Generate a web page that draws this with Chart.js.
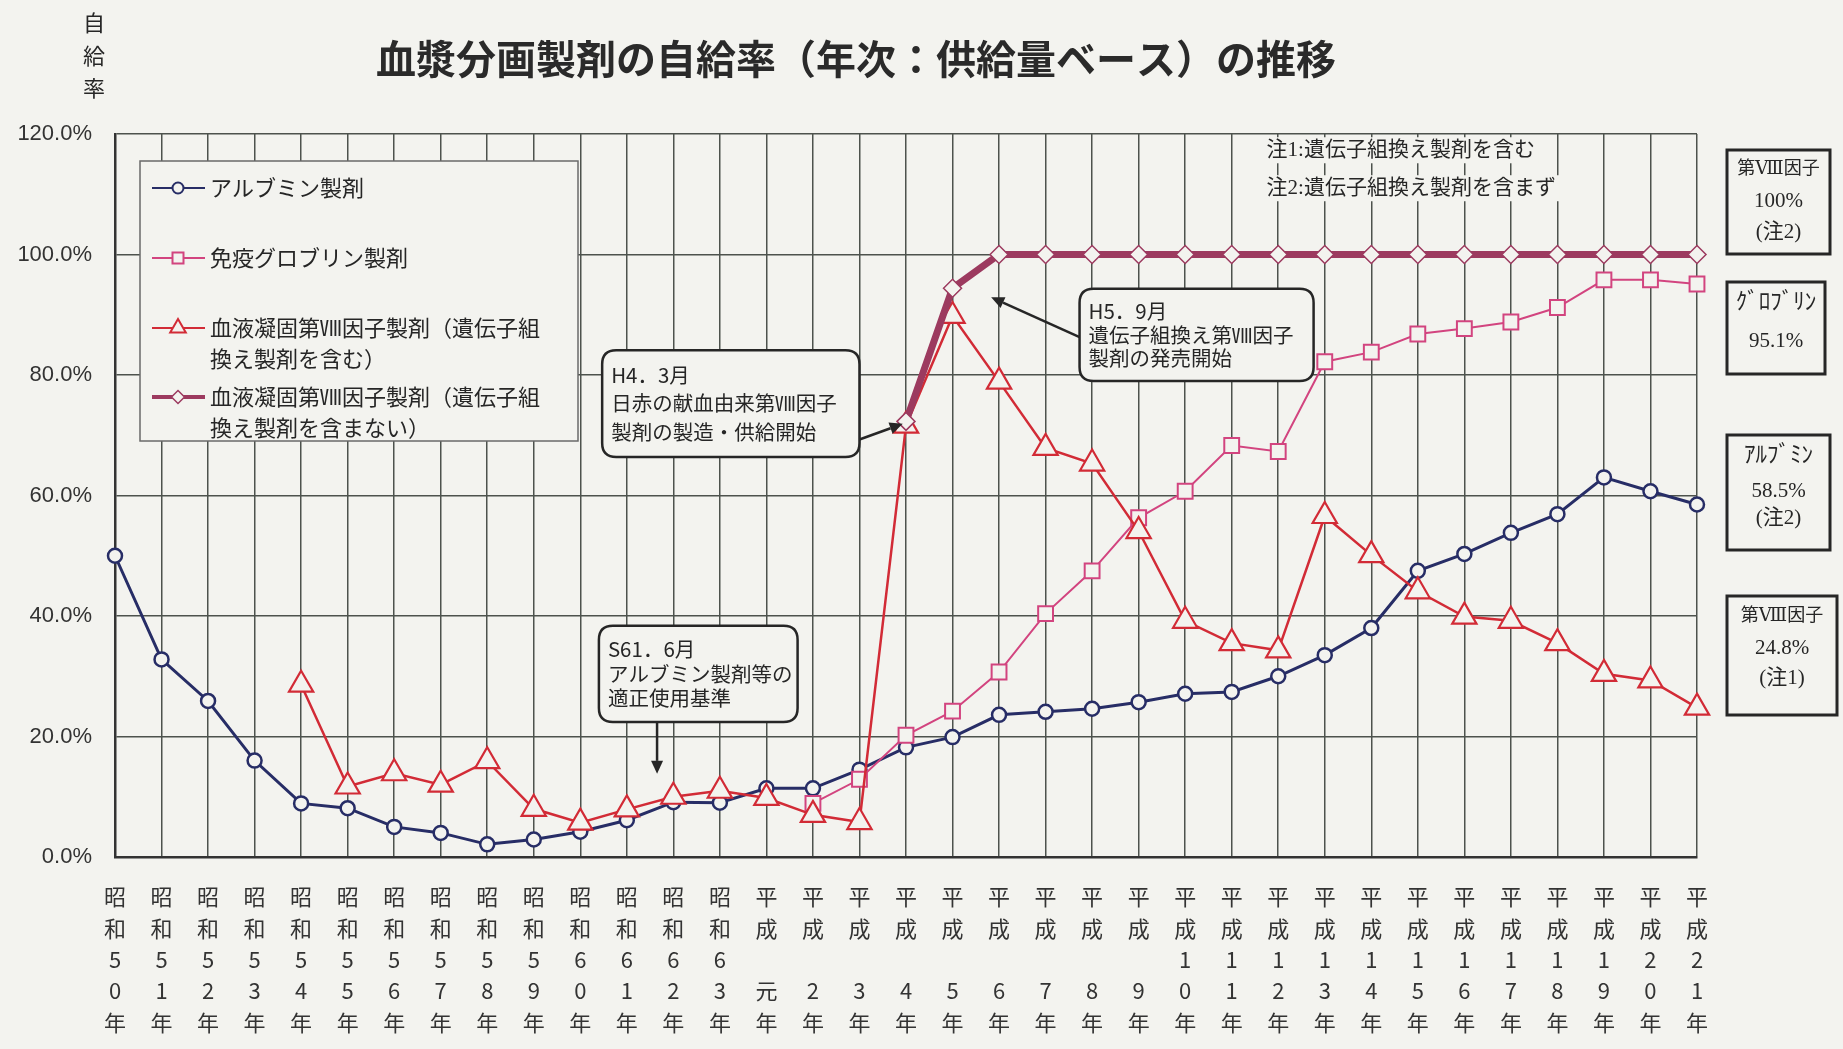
<!DOCTYPE html>
<html><head><meta charset="utf-8">
<script src="https://cdn.jsdelivr.net/npm/chart.js@4.4.0/dist/chart.umd.min.js"></script>
<style>
html,body{margin:0;padding:0;background:#f3f3ef;}
canvas{display:block;}
</style></head><body>
<canvas id="c" width="1843" height="1049"></canvas>
<script>
// ---------- data ----------
const categories = ['昭和50年','昭和51年','昭和52年','昭和53年','昭和54年','昭和55年','昭和56年','昭和57年','昭和58年','昭和59年','昭和60年','昭和61年','昭和62年','昭和63年',
  '平成元年','平成2年','平成3年','平成4年','平成5年','平成6年','平成7年','平成8年','平成9年','平成10年','平成11年','平成12年','平成13年','平成14年','平成15年','平成16年','平成17年','平成18年','平成19年','平成20年','平成21年'];
const albumin = [50.0,32.8,25.9,16.0,8.9,8.1,5.0,4.0,2.1,2.9,4.2,6.1,9.1,9.0,
  11.4,11.4,14.5,18.2,19.9,23.6,24.1,24.6,25.7,27.1,27.4,30.0,33.5,38.0,47.5,50.3,53.8,56.9,63.0,60.7,58.5];
const globulin = [null,null,null,null,null,null,null,null,null,null,null,null,null,null,
  null,8.9,12.9,20.2,24.2,30.7,40.4,47.5,56.3,60.7,68.3,67.3,82.2,83.8,86.8,87.7,88.8,91.2,95.8,95.8,95.1];
const factor8Incl = [null,null,null,null,28.6,11.7,13.9,12.0,15.9,8.0,5.7,7.9,10.0,11.0,
  9.8,7.0,5.8,71.6,89.8,78.9,67.9,65.3,54.1,39.2,35.5,34.3,56.6,50.1,44.1,39.9,39.2,35.5,30.4,29.3,24.8];
const factor8Excl = [null,null,null,null,null,null,null,null,null,null,null,null,null,null,
  null,null,null,72.3,94.4,100,100,100,100,100,100,100,100,100,100,100,100,100,100,100,100];
const seriesNames = ['アルブミン製剤','免疫グロブリン製剤','血液凝固第Ⅷ因子製剤（遺伝子組換え製剤を含む）','血液凝固第Ⅷ因子製剤（遺伝子組換え製剤を含まない）'];
const yMin = 0, yMax = 120, yStep = 20;
const titleText = '血漿分画製剤の自給率（年次：供給量ベース）の推移';
const yTitle = '自給率';
const notes = ['注1:遺伝子組換え製剤を含む','注2:遺伝子組換え製剤を含まず'];
const sideBoxes = [['第Ⅷ因子','100%','(注2)'],['ｸﾞﾛﾌﾞﾘﾝ','95.1%'],['ｱﾙﾌﾞﾐﾝ','58.5%','(注2)'],['第Ⅷ因子','24.8%','(注1)']];
const callouts = [
  {lines:['S61．6月','アルブミン製剤等の','適正使用基準']},
  {lines:['H4．3月','日赤の献血由来第Ⅷ因子','製剤の製造・供給開始']},
  {lines:['H5．9月','遺伝子組換え第Ⅷ因子','製剤の発売開始']}
];

// ---------- styling ----------
const BG = '#f3f3ef';
const GRID = '#4d524d';
const INK = '#262626';
const CJK = '"Noto Sans CJK JP","Noto Sans",sans-serif';
const SERIF = '"Liberation Serif","DejaVu Serif","Noto Sans CJK JP",serif';
const C_ALB = '#272d66', C_GLO = '#d2447f', C_F8 = '#d22b36', C_F8X = '#9c3a5f';

function stackLabel(s){
  const era = s.slice(0,2);
  const num = s.slice(2, s.length-1);
  const d = num.length === 1 ? ['', num] : [num[0], num[1]];
  return [era[0], era[1], d[0], d[1], '年'];
}

function roundRect(ctx,x,y,w,h,r){
  ctx.beginPath();
  ctx.moveTo(x+r,y);ctx.lineTo(x+w-r,y);ctx.quadraticCurveTo(x+w,y,x+w,y+r);
  ctx.lineTo(x+w,y+h-r);ctx.quadraticCurveTo(x+w,y+h,x+w-r,y+h);
  ctx.lineTo(x+r,y+h);ctx.quadraticCurveTo(x,y+h,x,y+h-r);
  ctx.lineTo(x,y+r);ctx.quadraticCurveTo(x,y,x+r,y);ctx.closePath();
}
function arrow(ctx,x1,y1,x2,y2){
  ctx.save();
  ctx.strokeStyle = INK; ctx.fillStyle = INK; ctx.lineWidth = 2.5;
  const a = Math.atan2(y2-y1,x2-x1), L = 13, W = 6;
  const bx = x2 - Math.cos(a)*L, by = y2 - Math.sin(a)*L;
  ctx.beginPath(); ctx.moveTo(x1,y1); ctx.lineTo(bx,by); ctx.stroke();
  ctx.beginPath(); ctx.moveTo(x2,y2);
  ctx.lineTo(bx - Math.sin(a)*W, by + Math.cos(a)*W);
  ctx.lineTo(bx + Math.sin(a)*W, by - Math.cos(a)*W);
  ctx.closePath(); ctx.fill();
  ctx.restore();
}
function marker(ctx,style,x,y,r,color,lw){
  ctx.save(); ctx.strokeStyle = color; ctx.fillStyle = BG; ctx.lineWidth = lw;
  ctx.beginPath();
  if (style==='circle'){ ctx.arc(x,y,r,0,Math.PI*2); }
  else if (style==='rect'){ ctx.rect(x-r,y-r,2*r,2*r); }
  else if (style==='triangle'){ ctx.moveTo(x,y-r); ctx.lineTo(x+r*0.866,y+r*0.5); ctx.lineTo(x-r*0.866,y+r*0.5); ctx.closePath(); }
  else if (style==='rectRot'){ ctx.moveTo(x,y-r); ctx.lineTo(x+r,y); ctx.lineTo(x,y+r); ctx.lineTo(x-r,y); ctx.closePath(); }
  ctx.fill(); ctx.stroke(); ctx.restore();
}

const deco = {
  id: 'deco',
  beforeDraw(chart){
    const ctx = chart.ctx; ctx.save(); ctx.fillStyle = BG; ctx.fillRect(0,0,chart.width,chart.height); ctx.restore();
  },
  afterDatasetsDraw(chart){
    const ctx = chart.ctx, ca = chart.chartArea;
    const X = chart.scales.x, Y = chart.scales.y;
    const px = v => X.getPixelForValue(v), py = v => Y.getPixelForValue(v);
    // legend box
    const L = ca.left + 25, T = ca.top + 27, W = 438, H = 280;
    ctx.save();
    ctx.fillStyle = BG; ctx.fillRect(L,T,W,H);
    ctx.strokeStyle = '#6a6a6a'; ctx.lineWidth = 1.5; ctx.strokeRect(L,T,W,H);
    const items = [
      {c:C_ALB, s:'circle', r:5.5, lw:2, blw:2, lines:[seriesNames[0]], y:27},
      {c:C_GLO, s:'rect', r:5.5, lw:2, blw:2, lines:[seriesNames[1]], y:97},
      {c:C_F8, s:'triangle', r:9, lw:2, blw:2, lines:['血液凝固第Ⅷ因子製剤（遺伝子組','換え製剤を含む）'], y:167},
      {c:C_F8X, s:'rectRot', r:6.5, lw:1.5, blw:4, lines:['血液凝固第Ⅷ因子製剤（遺伝子組','換え製剤を含まない）'], y:236}
    ];
    items.forEach(it => {
      const yy = T + it.y;
      ctx.strokeStyle = it.c; ctx.lineWidth = it.blw;
      ctx.beginPath(); ctx.moveTo(L+12,yy); ctx.lineTo(L+65,yy); ctx.stroke();
      marker(ctx,it.s,L+38,yy,it.r,it.c,it.lw);
      ctx.fillStyle = INK; ctx.font = '22px '+CJK; ctx.textBaseline = 'middle'; ctx.textAlign = 'left';
      it.lines.forEach((t,k) => ctx.fillText(t, L+70, yy + k*31));
    });
    // notes (top right inside plot)
    ctx.font = '21px '+SERIF; ctx.textBaseline = 'middle'; ctx.textAlign = 'left';
    const nx = px(24.75);
    [py(117.3), py(111.0)].forEach((yy,k) => {
      const w = ctx.measureText(notes[k]).width;
      ctx.fillStyle = BG; ctx.fillRect(nx-4, yy-13, w+8, 26);
      ctx.fillStyle = INK; ctx.fillText(notes[k], nx, yy);
    });
    // callouts
    const boxes = [
      {b:[10.4,38.4,14.67,22.4], a:[11.65,22.4,11.65,13.8]},
      {b:[10.47,84.1,16.0,66.4], a:[16.0,69.3,16.93,71.9]},
      {b:[20.73,94.3,25.76,79.0], a:[20.73,86.3,18.83,92.9]}
    ];
    boxes.forEach((bx,k) => {
      const x1 = px(bx.b[0]), y1 = py(bx.b[1]), x2 = px(bx.b[2]), y2 = py(bx.b[3]);
      arrow(ctx, px(bx.a[0]), py(bx.a[1]), px(bx.a[2]), py(bx.a[3]));
      roundRect(ctx, x1, y1, x2-x1, y2-y1, 14);
      ctx.fillStyle = BG; ctx.fill();
      ctx.strokeStyle = INK; ctx.lineWidth = 2.5; ctx.stroke();
      ctx.fillStyle = INK; ctx.font = '20.5px '+CJK; ctx.textAlign = 'left'; ctx.textBaseline = 'middle';
      const lh = (y2-y1-22)/3;
      callouts[k].lines.forEach((t,j) => ctx.fillText(t, x1+9, y1 + 11 + lh*(j+0.5)));
    });
    ctx.restore();
  },
  afterDraw(chart){
    const ctx = chart.ctx, ca = chart.chartArea;
    ctx.save();
    // title
    ctx.fillStyle = '#2a2a2a'; ctx.font = 'bold 40px '+CJK; ctx.textAlign = 'center'; ctx.textBaseline = 'middle';
    ctx.fillText(titleText, 856, 59);
    // y title stacked
    ctx.font = '22px '+CJK; ctx.fillStyle = INK;
    [...yTitle].forEach((ch,k) => ctx.fillText(ch, 94, 23 + k*32.5));
    // side boxes
    const sb = [
      {y:[150,254], ly:[169,201,232], w:103, f0:18},
      {y:[282,374], ly:[303,341], w:98, f0:23},
      {y:[435,550], ly:[456,491,518], w:103, f0:23},
      {y:[596,715], ly:[616,648,678], w:110, f0:18}
    ];
    const bxL = ca.right + 30;
    sb.forEach((b,k) => {
      ctx.fillStyle = BG; ctx.fillRect(bxL, b.y[0], b.w, b.y[1]-b.y[0]);
      ctx.strokeStyle = INK; ctx.lineWidth = 3; ctx.strokeRect(bxL, b.y[0], b.w, b.y[1]-b.y[0]);
      ctx.fillStyle = INK; ctx.textAlign = 'center'; ctx.textBaseline = 'middle';
      sideBoxes[k].forEach((t,j) => {
        ctx.font = (j === 0 ? b.f0 + 'px ' : '21px ') + SERIF;
        ctx.fillText(t, bxL + b.w/2, b.ly[j]);
      });
    });
    ctx.restore();
  }
};

const ptBg = BG;
new Chart(document.getElementById('c'), {
  type: 'line',
  data: {
    labels: categories.map(stackLabel),
    datasets: [
      {label: seriesNames[3], data: factor8Excl, order: 0, borderColor: C_F8X, borderWidth: 7,
        pointStyle: 'rectRot', pointRadius: 9, pointBorderWidth: 1.5, pointBorderColor: C_F8X, pointBackgroundColor: ptBg, tension: 0},
      {label: seriesNames[2], data: factor8Incl, order: 1, borderColor: C_F8, borderWidth: 2.5,
        pointStyle: 'triangle', pointRadius: 14, pointBorderWidth: 2.2, pointBorderColor: C_F8, pointBackgroundColor: ptBg, tension: 0},
      {label: seriesNames[1], data: globulin, order: 2, borderColor: C_GLO, borderWidth: 2,
        pointStyle: 'rect', pointRadius: 10.5, pointBorderWidth: 2, pointBorderColor: C_GLO, pointBackgroundColor: ptBg, tension: 0},
      {label: seriesNames[0], data: albumin, order: 3, borderColor: C_ALB, borderWidth: 3,
        pointStyle: 'circle', pointRadius: 7, pointBorderWidth: 2.5, pointBorderColor: C_ALB, pointBackgroundColor: ptBg, tension: 0}
    ]
  },
  options: {
    responsive: false,
    animation: false,
    events: [],
    layout: {padding: {left: 0, right: 146, top: 134, bottom: 0}},
    plugins: {legend: {display: false}, tooltip: {enabled: false}, title: {display: false}},
    scales: {
      x: {
        type: 'category', offset: false,
        grid: {color: GRID, lineWidth: 1.5, drawTicks: false},
        border: {color: '#333', width: 2.5},
        ticks: {autoSkip: false, maxRotation: 0, minRotation: 0, padding: 24, color: '#333',
          font: {family: CJK, size: 22, lineHeight: 1.43}},
        afterFit(s){ s.height = 192; }
      },
      y: {
        min: yMin, max: yMax,
        grid: {color: GRID, lineWidth: 1.5, drawTicks: false},
        border: {color: '#333', width: 2.5},
        ticks: {stepSize: yStep, padding: 23, color: '#333',
          font: {family: '"Liberation Sans",Arial,sans-serif', size: 22},
          callback: v => v.toFixed(1) + '%'},
        afterFit(s){ s.width = 115; }
      }
    }
  },
  plugins: [deco]
});
</script>
</body></html>
